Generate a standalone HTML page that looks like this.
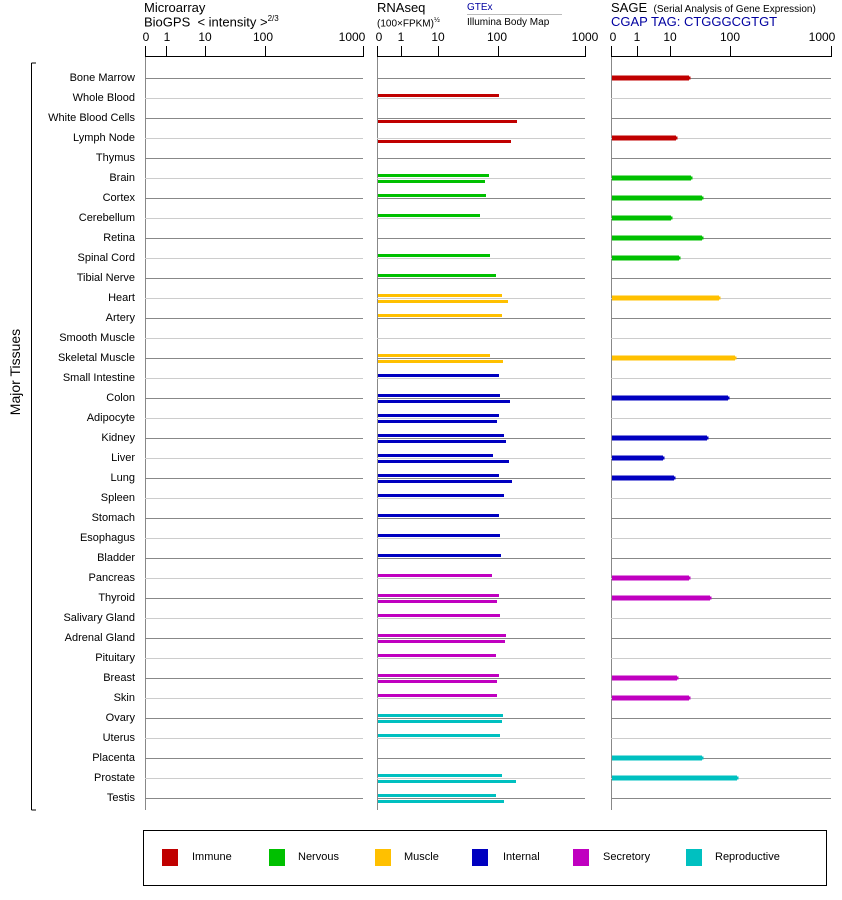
<!DOCTYPE html>
<html><head><meta charset="utf-8"><style>
body{margin:0;background:#fff;font-family:"Liberation Sans",sans-serif;}
#w{position:relative;width:842px;height:900px;overflow:hidden}
.lab{position:absolute;right:707px;font-size:11px;color:#000;line-height:14px;white-space:nowrap}
.t{position:absolute;font-size:13px;white-space:nowrap;color:#000}
.s{position:absolute;font-size:10px;white-space:nowrap}
.tk{position:absolute;font-size:12px;transform:translateX(-50%);top:30px}
</style></head><body><div id="w">
<svg id="sv" width="842" height="900" style="position:absolute;left:0;top:0"></svg>
<div class="t" style="left:144px;top:0px">Microarray</div>
<div class="t" style="left:144px;top:14px">BioGPS &nbsp;&lt; intensity &gt;<sup style="font-size:8px">2/3</sup></div>
<div class="t" style="left:377px;top:0px">RNAseq</div>
<div class="s" style="left:377px;top:17px">(100×FPKM)<sup style="font-size:7px">½</sup></div>
<div class="s" style="left:467px;top:2px;color:#0000a0">GTEx</div>
<div class="s" style="left:467px;top:17px">Illumina Body Map</div>
<div style="position:absolute;left:467px;top:14px;width:95px;height:1px;background:#bbb"></div>
<div class="t" style="left:611px;top:0px">SAGE <span style="font-size:10px">&nbsp;(Serial Analysis of Gene Expression)</span></div>
<div class="t" style="left:611px;top:14px;color:#0000a0">CGAP TAG: CTGGGCGTGT</div>
<div class="tk" style="left:146px">0</div><div class="tk" style="left:167px">1</div><div class="tk" style="left:205px">10</div><div class="tk" style="left:263px">100</div><div class="tk" style="left:352px">1000</div>
<div class="tk" style="left:379px">0</div><div class="tk" style="left:401px">1</div><div class="tk" style="left:438px">10</div><div class="tk" style="left:497px">100</div><div class="tk" style="left:585px">1000</div>
<div class="tk" style="left:613px">0</div><div class="tk" style="left:637px">1</div><div class="tk" style="left:670px">10</div><div class="tk" style="left:730px">100</div><div class="tk" style="left:822px">1000</div>
<div class="lab" style="top:71px">Bone Marrow</div>
<div class="lab" style="top:91px">Whole Blood</div>
<div class="lab" style="top:111px">White Blood Cells</div>
<div class="lab" style="top:131px">Lymph Node</div>
<div class="lab" style="top:151px">Thymus</div>
<div class="lab" style="top:171px">Brain</div>
<div class="lab" style="top:191px">Cortex</div>
<div class="lab" style="top:211px">Cerebellum</div>
<div class="lab" style="top:231px">Retina</div>
<div class="lab" style="top:251px">Spinal Cord</div>
<div class="lab" style="top:271px">Tibial Nerve</div>
<div class="lab" style="top:291px">Heart</div>
<div class="lab" style="top:311px">Artery</div>
<div class="lab" style="top:331px">Smooth Muscle</div>
<div class="lab" style="top:351px">Skeletal Muscle</div>
<div class="lab" style="top:371px">Small Intestine</div>
<div class="lab" style="top:391px">Colon</div>
<div class="lab" style="top:411px">Adipocyte</div>
<div class="lab" style="top:431px">Kidney</div>
<div class="lab" style="top:451px">Liver</div>
<div class="lab" style="top:471px">Lung</div>
<div class="lab" style="top:491px">Spleen</div>
<div class="lab" style="top:511px">Stomach</div>
<div class="lab" style="top:531px">Esophagus</div>
<div class="lab" style="top:551px">Bladder</div>
<div class="lab" style="top:571px">Pancreas</div>
<div class="lab" style="top:591px">Thyroid</div>
<div class="lab" style="top:611px">Salivary Gland</div>
<div class="lab" style="top:631px">Adrenal Gland</div>
<div class="lab" style="top:651px">Pituitary</div>
<div class="lab" style="top:671px">Breast</div>
<div class="lab" style="top:691px">Skin</div>
<div class="lab" style="top:711px">Ovary</div>
<div class="lab" style="top:731px">Uterus</div>
<div class="lab" style="top:751px">Placenta</div>
<div class="lab" style="top:771px">Prostate</div>
<div class="lab" style="top:791px">Testis</div>
<div style="position:absolute;left:-30px;top:364px;width:90px;text-align:center;transform:rotate(-90deg);font-size:14px;">Major Tissues</div>
<div style="position:absolute;left:143px;top:830px;width:682px;height:54px;border:1px solid #000"></div>
<div style="position:absolute;left:162px;top:849px;width:16px;height:17px;background:#c00000"></div><div class="s" style="left:192px;top:851px;font-size:11px">Immune</div>
<div style="position:absolute;left:269px;top:849px;width:16px;height:17px;background:#00c000"></div><div class="s" style="left:298px;top:851px;font-size:11px">Nervous</div>
<div style="position:absolute;left:375px;top:849px;width:16px;height:17px;background:#ffc000"></div><div class="s" style="left:404px;top:851px;font-size:11px">Muscle</div>
<div style="position:absolute;left:472px;top:849px;width:16px;height:17px;background:#0000c0"></div><div class="s" style="left:503px;top:851px;font-size:11px">Internal</div>
<div style="position:absolute;left:573px;top:849px;width:16px;height:17px;background:#c000c0"></div><div class="s" style="left:603px;top:851px;font-size:11px">Secretory</div>
<div style="position:absolute;left:686px;top:849px;width:16px;height:17px;background:#00c0c0"></div><div class="s" style="left:715px;top:851px;font-size:11px">Reproductive</div>
</div>
<script>
var C=['#c00000','#00c000','#ffc000','#0000c0','#c000c0','#00c0c0'];
var cat=[0,0,0,0,0,1,1,1,1,1,1,2,2,2,2,3,3,3,3,3,3,3,3,3,3,4,4,4,4,4,4,4,5,5,5,5,5];
var R=[[0,0],[499,0],[0,517],[0,511],[0,0],[489,485],[486,0],[480,0],[0,0],[490,0],[496,0],[502,508],[502,0],[0,0],[490,503],[499,0],[500,510],[499,497],[504,506],[493,509],[499,512],[504,0],[499,0],[500,0],[501,0],[492,0],[499,497],[500,0],[506,505],[496,0],[499,497],[497,0],[503,502],[500,0],[0,0],[502,516],[496,504]];
var S={0:689,3:676,5:691,6:702,7:671,8:702,9:679,11:719,14:735,16:728,18:707,19:663,20:674,25:689,26:710,30:677,31:689,34:702,35:737};
var h='';
function L(x1,y1,x2,y2,c,w){h+='<line x1="'+x1+'" y1="'+y1+'" x2="'+x2+'" y2="'+y2+'" stroke="'+c+'" stroke-width="'+(w||1)+'"/>';}
var P=[[145,363,[145,166,205,265,363]],[377,585,[377,401,438,498,585]],[611,831,[611,637,670,730,831]]];
P.forEach(function(p){L(p[0],56.5,p[1],56.5,'#000');p[2].forEach(function(x){L(x+.5,46,x+.5,57,'#000')});L(p[0]+.5,57,p[0]+.5,810,'#888');});
for(var i=0;i<37;i++){var y=78+20*i+.5;var c=i%2==0?'#888':'#ccc';P.forEach(function(p){L(p[0],y,p[1],y,c)});
 var col=C[cat[i]];
 if(R[i][0])h+='<rect x="378" y="'+(y-4.5)+'" width="'+(R[i][0]-378)+'" height="3" fill="'+col+'"/>';
 if(R[i][1])h+='<rect x="378" y="'+(y+1.5)+'" width="'+(R[i][1]-378)+'" height="3" fill="'+col+'"/>';
 if(S[i]){h+='<rect x="612" y="'+(y-3)+'" width="'+(S[i]-612)+'" height="5" fill="'+col+'"/><rect x="'+S[i]+'" y="'+(y-2)+'" width="1.5" height="3" fill="'+col+'"/>';}
}
L(36,63,31.5,63,'#000');L(31.5,63,31.5,810,'#000');L(31.5,810,36,810,'#000');
document.getElementById('sv').innerHTML=h;
</script>
</body></html>
